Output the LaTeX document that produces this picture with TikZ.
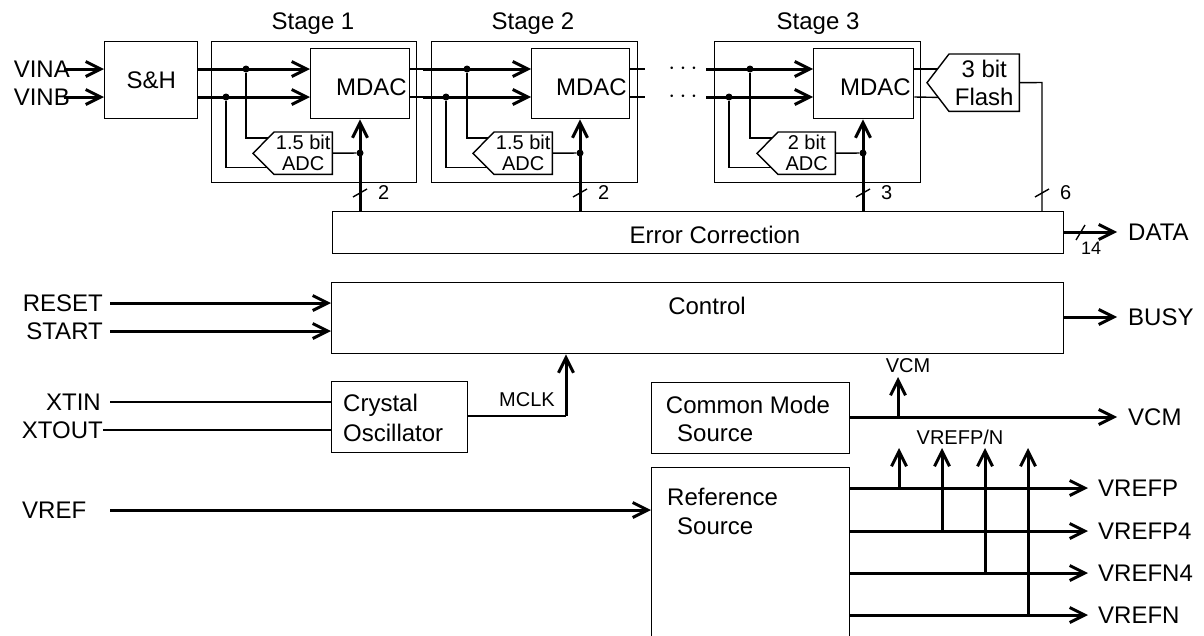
\documentclass[tikz,border=0pt]{standalone}
\usepackage{fontspec}
\setmainfont{Liberation Sans}
\usetikzlibrary{arrows.meta,calc}
\begin{document}
\begin{tikzpicture}[x=1pt,y=-1pt,
  every node/.style={inner sep=0pt},
  box/.style={draw,line width=1.4pt,anchor=north west},
  txtbox/.style={anchor=north west,align=center},
  big/.style={font=\fontsize{24}{28}\selectfont},
  small/.style={font=\fontsize{20}{21}\selectfont},
  tiny/.style={font=\fontsize{18}{20}\selectfont},
  sig/.style={line width=3pt},
  wire/.style={line width=1.4pt},
  arr/.style={-{Straight Barb[length=15pt,width=15pt]}},
  dot/.style={circle,fill,minimum size=7pt},
]
\clip (0,0) rectangle (1204,635);
% ---------- boxes ----------
\node[box,minimum width=93pt,minimum height=77pt,big] (sh) at (104,41) {S\&H};
\node[box,minimum width=205pt,minimum height=141pt] (st1) at (211,41) {};
\node[box,minimum width=206pt,minimum height=141pt] (st2) at (431,41) {};
\node[box,minimum width=206pt,minimum height=141pt] (st3) at (714,41) {};
\node[big] (l1) at (313,24) {Stage 1};
\node[big] (l2) at (533,24) {Stage 2};
\node[big] (l3) at (818,24) {Stage 3};
\node[box,minimum width=99pt,minimum height=70pt] (m1) at (310,48) {};
\node[box,minimum width=98pt,minimum height=70pt] (m2) at (531,48) {};
\node[box,minimum width=100pt,minimum height=70pt] (m3) at (813,48) {};
\node[big,anchor=east] (m1t) at (407,87) {MDAC};
\node[big,anchor=east] (m2t) at (627,87) {MDAC};
\node[big,anchor=east] (m3t) at (911,87) {MDAC};
% ADC pentagons
\node[txtbox,minimum width=58pt,minimum height=42pt,small] (adc1) at (274,132) {1.5 bit\\ADC};
\node[txtbox,minimum width=58pt,minimum height=42pt,small] (adc2) at (494,132) {1.5 bit\\ADC};
\node[txtbox,minimum width=57pt,minimum height=42pt,small] (adc3) at (778,132) {2 bit\\ADC};
\foreach \a in {adc1,adc2,adc3}{
  \draw[wire] (\a.north west) -- (\a.north east) -- (\a.south east) -- (\a.south west) -- ++(-21,-21) -- cycle;
}
% flash
\node[txtbox,minimum width=70pt,minimum height=57pt,font=\fontsize{24}{28}\selectfont] (fl) at (949,54) {3 bit\\Flash};
\draw[wire] (fl.north west) -- (fl.north east) -- (fl.south east) -- (fl.south west) -- ($(fl.west)+(-22,0)$) -- cycle;
% error correction, control
\node[box,minimum width=731pt,minimum height=42pt] (ec) at (332,211) {};
\node[big] (ect) at (715,235) {Error Correction};
\node[box,minimum width=732pt,minimum height=71pt] (ctrl) at (331,282) {};
\node[big] (ctrlt) at (707,306) {Control};
\node[box,minimum width=136pt,minimum height=71pt] (xo) at (331,381) {};
\node[big,align=left,anchor=west,font=\fontsize{24}{30}\selectfont] (xot) at (343,418) {Crystal\\Oscillator};
\node[box,minimum width=198pt,minimum height=71pt] (cm) at (651,382) {};
\node[big] (cmt1) at (748,405) {Common Mode};
\node[big,anchor=west] (cmt2) at (677,433) {Source};
\node[box,minimum width=198pt,minimum height=200pt] (ref) at (651,467) {};
\node[big,anchor=west] (reft1) at (667,497) {Reference};
\node[big,anchor=west] (reft2) at (677,526) {Source};
% ---------- inputs ----------
\node[big,anchor=east] (vina) at (70,69) {VINA};
\node[big,anchor=east] (vinb) at (70,97) {VINB};
\draw[sig,arr] ([xshift=-6pt]vina.east) -- (sh.west|-vina);
\draw[sig,arr] ([xshift=-6pt]vinb.east) -- (sh.west|-vinb);
% ---------- stage 1 ----------
\node[dot] (d1a) at (246,69) {};
\node[dot] (d1b) at (226,97) {};
\draw[sig,arr] (sh.east|-d1a) -- (m1.west|-d1a);
\draw[sig,arr] (sh.east|-d1b) -- (m1.west|-d1b);
\draw[wire] (d1a) |- ($(adc1.north west)+(-6,6)$);
\draw[wire] (d1b) |- ($(adc1.south west)+(-7,-7)$);
\node[dot] (b1) at (360,153) {};
\draw[wire] (adc1.east) -- (b1);
\draw[sig,arr] (b1|-ec.north) -- (b1|-m1.south);
% ---------- stage 2 ----------
\coordinate (j1a) at (423,69);
\coordinate (j1b) at (423,97);
\draw[wire] (m1.east|-j1a) -- (j1a);
\draw[wire] (m1.east|-j1b) -- (j1b);
\node[dot] (d2a) at (467,69) {};
\node[dot] (d2b) at (446,97) {};
\draw[sig,arr] (j1a) -- (m2.west|-j1a);
\draw[sig,arr] (j1b) -- (m2.west|-j1b);
\draw[wire] (d2a) |- ($(adc2.north west)+(-6,6)$);
\draw[wire] (d2b) |- ($(adc2.south west)+(-7,-7)$);
\node[dot] (b2) at (580,153) {};
\draw[wire] (adc2.east) -- (b2);
\draw[sig,arr] (b2|-ec.north) -- (b2|-m2.south);
\coordinate (j2a) at (645,69);
\coordinate (j2b) at (645,97);
\draw[wire] (m2.east|-j2a) -- (j2a);
\draw[wire] (m2.east|-j2b) -- (j2b);
\node[big] (dots1) at (683,69) {$\cdots$};
\node[big] (dots2) at (683,97) {$\cdots$};
% ---------- stage 3 ----------
\coordinate (j3a) at (706,69);
\coordinate (j3b) at (706,97);
\node[dot] (d3a) at (750,69) {};
\node[dot] (d3b) at (729,97) {};
\draw[sig,arr] (j3a) -- (m3.west|-j3a);
\draw[sig,arr] (j3b) -- (m3.west|-j3b);
\draw[wire] (d3a) |- ($(adc3.north west)+(-6,6)$);
\draw[wire] (d3b) |- ($(adc3.south west)+(-7,-7)$);
\node[dot] (b3) at (863,153) {};
\draw[wire] (adc3.east) -- (b3);
\draw[sig,arr] (b3|-ec.north) -- (b3|-m3.south);
\draw[wire] (m3.east|-j3a) -- ($(fl.north west)+(-11.4,15)$);
\draw[wire] (m3.east|-j3b) -- ($(fl.south west)+(-11,-14)$);
\coordinate (fo) at (1042,82.5);
\draw[wire] (fl.east) -- (fo) -- (fo|-ec.north);
% bus marks
\foreach \b/\n in {b1/2,b2/2,b3/3,fo/6}{
  \draw[wire] ($(\b|-0,193)+(-7,4)$) -- ++(14,-8);
  \node[small,anchor=west] at ($(\b|-0,193)+(18,0)$) {\n};
}
% ---------- data ----------
\node[big,anchor=west] (data) at (1128,232) {DATA};
\draw[sig,arr] (ec.east|-data) -- ([xshift=-11pt]data.west);
\draw[wire] (1076,240) -- (1085,225);
\node[tiny] (n14) at (1091,248) {14};
% ---------- control ----------
\node[big,anchor=east] (reset) at (103,303) {RESET};
\node[big,anchor=east] (start) at (103,331) {START};
\draw[sig,arr] ([xshift=7pt]reset.east) -- (ctrl.west|-reset);
\draw[sig,arr] ([xshift=7pt]start.east) -- (ctrl.west|-start);
\node[big,anchor=west] (busy) at (1128,317) {BUSY};
\draw[sig,arr] (ctrl.east|-busy) -- ([xshift=-11pt]busy.west);
% ---------- crystal ----------
\node[big,anchor=east] (xtin) at (101,402) {XTIN};
\node[big,anchor=east] (xtout) at (103,430) {XTOUT};
\draw[wire] ([xshift=9pt]xtin.east) -- (xo.west|-xtin);
\draw[wire] (xtout.east) -- (xo.west|-xtout);
\coordinate (mc) at (566,416);
\draw[wire] (xo.east|-mc) -- (mc);
\draw[sig,arr] (mc) -- (mc|-ctrl.south);
\node[small] (mclk) at (527,400) {MCLK};
% ---------- common mode ----------
\node[big,anchor=west] (vcm) at (1128,417) {VCM};
\draw[sig,arr] (cm.east|-vcm) -- ([xshift=-11pt]vcm.west);
\coordinate (vcmt) at (898,377);
\draw[sig,arr] (vcmt|-vcm) -- (vcmt);
\node[small] (vcml) at (908,366) {VCM};
% ---------- reference ----------
\node[big,anchor=west] (vref) at (22,510) {VREF};
\draw[sig,arr] ([xshift=24pt]vref.east) -- (ref.west|-vref);
\node[big,anchor=west] (vp) at (1098,488) {VREFP};
\node[big,anchor=west] (vp4) at (1098,531) {VREFP4};
\node[big,anchor=west] (vn4) at (1098,573) {VREFN4};
\node[big,anchor=west] (vn) at (1098,615) {VREFN};
\foreach \o in {vp,vp4,vn4,vn}{
  \draw[sig,arr] (ref.east|-\o) -- ([xshift=-10pt]\o.west);
}
\coordinate (t1) at (899,448);
\coordinate (t2) at (942,448);
\coordinate (t3) at (985,448);
\coordinate (t4) at (1028,448);
\draw[sig,arr] (t1|-vp) -- (t1);
\draw[sig,arr] (t2|-vp4) -- (t2);
\draw[sig,arr] (t3|-vn4) -- (t3);
\draw[sig,arr] (t4|-vn) -- (t4);
\node[small] (vpn) at (960,437) {VREFP/N};
\end{tikzpicture}
\end{document}
